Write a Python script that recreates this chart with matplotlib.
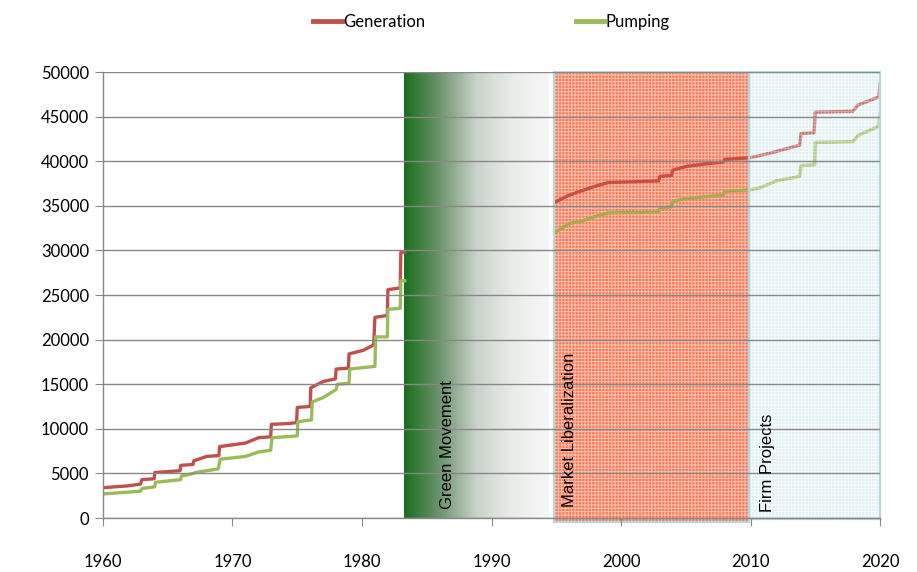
import matplotlib.pyplot as plt
import matplotlib.patches as mpatches
from matplotlib.colors import LinearSegmentedColormap
import numpy as np

# Generation / pumping capacity (NaN = gap in data)
gen_years = [1960.0, 1961.9, 1962.9, 1963.0, 1963.95, 1964.0, 1965.95, 1966.0, 1966.95, 1967.0,
             1968.0, 1968.95, 1969.0, 1971.0, 1972.0, 1972.95, 1973.0, 1974.4, 1974.95, 1975.0,
             1976.0, 1976.05, 1977.0, 1977.95, 1978.0, 1978.95, 1979.0, 1980.1, 1980.9, 1981.0,
             1981.95, 1982.0, 1982.95, 1983.0, 1983.3,
             np.nan,
             1994.9, 1996.0, 1997.0, 1998.0, 1999.0, 2002.9, 2003.0, 2003.9, 2004.0, 2005.0,
             2006.5, 2007.9, 2008.0, 2010.0, 2011.5, 2012.5, 2013.8, 2013.9, 2014.9, 2015.0,
             2017.9, 2018.3, 2019.9, 2020.0]
gen_values = [3400, 3600, 3800, 4300, 4400, 5100, 5300, 5900, 6000, 6400,
              6900, 7000, 8000, 8400, 9000, 9100, 10500, 10600, 10700, 12400,
              12500, 14600, 15300, 15600, 16700, 16800, 18400, 18800, 19400, 22500,
              22700, 25600, 25800, 29800, 29800,
              np.nan,
              35400, 36200, 36700, 37200, 37600, 37800, 38300, 38400, 39000, 39400,
              39700, 39900, 40200, 40400, 40900, 41300, 41800, 43100, 43200, 45500,
              45600, 46300, 47200, 48700]

pump_years = [1960.0, 1961.9, 1962.9, 1963.0, 1964.0, 1964.05, 1966.0, 1966.05, 1967.0, 1967.1,
              1968.9, 1969.05, 1971.0, 1972.0, 1972.95, 1973.05, 1975.0, 1975.05, 1976.1, 1976.15,
              1977.0, 1978.0, 1978.1, 1979.0, 1979.05, 1981.0, 1981.05, 1981.95, 1982.0, 1982.95,
              1983.0, 1983.3,
              np.nan,
              1994.9, 1996.0, 1997.0, 1998.0, 1999.0, 2002.9, 2003.0, 2003.9, 2004.0, 2005.0,
              2007.9, 2008.0, 2010.0, 2010.7, 2012.0, 2013.8, 2013.9, 2014.95, 2015.0, 2017.9,
              2018.3, 2019.9, 2020.0]
pump_values = [2700, 2900, 3000, 3300, 3500, 4000, 4300, 4700, 5000, 5100,
               5500, 6600, 6900, 7400, 7600, 9000, 9200, 10800, 11000, 13000,
               13500, 14400, 15000, 15100, 16700, 17000, 20300, 20300, 23400, 23500,
               26600, 26600,
               np.nan,
               32000, 33000, 33300, 33800, 34200, 34300, 34700, 34900, 35500, 35800,
               36200, 36600, 36800, 37000, 37800, 38300, 39500, 39600, 42100, 42200,
               42900, 43900, 45300]

# Shaded periods
periods = ["Green Movement", "Market Liberalization", "Firm Projects"]
period_start = [1983.25, 1994.8, 2009.9]
period_end = [1994.4, 2009.9, 2020.0]

x_ticks = [1960, 1970, 1980, 1990, 2000, 2010, 2020]
y_ticks = list(range(0, 50001, 5000))

plt.rcParams['font.family'] = ['Lato', 'DejaVu Sans']
plt.rcParams['hatch.linewidth'] = 0.7

fig = plt.figure(figsize=(9.17, 5.72), dpi=100)
ax = fig.add_axes([0.1123, 0.0944, 0.8474, 0.7797])

# Green Movement gradient
cmap = LinearSegmentedColormap.from_list(
    'greenfade', [(0, '#1a6e1c'), (0.25, '#6f9470'), (0.5, '#c9d3c9'), (0.75, '#eaecea'), (1, '#f6f6f6')])
grad = np.linspace(0, 1, 256).reshape(1, -1)
ax.imshow(grad, cmap=cmap, aspect='auto', zorder=0.5,
          extent=[period_start[0], period_end[0], 0, 50000])

# Market Liberalization / Firm Projects base fills (grid pattern)
ax.add_patch(mpatches.Rectangle((period_start[1], -500), period_end[1] - period_start[1], 50500,
                                facecolor='#fa8064', edgecolor=(1, 1, 1, 0.7), linewidth=0,
                                hatch='+++++', zorder=0.6, clip_on=False))
ax.add_patch(mpatches.Rectangle((period_start[2], -100), period_end[2] - period_start[2], 50100,
                                facecolor='#dff1f3', edgecolor=(1, 1, 1, 0.8), linewidth=0,
                                hatch='+++++', zorder=0.6, clip_on=False))

# Series
ax.plot(gen_years, gen_values, color='#c0504d', linewidth=2.4, label='Generation', zorder=1)
ax.plot(pump_years, pump_values, color='#9bbb59', linewidth=2.4, label='Pumping', zorder=1)

# Overlays that tint the lines inside the shaded periods
ax.add_patch(mpatches.Rectangle((period_start[1], -500), period_end[1] - period_start[1], 50500,
                                facecolor=(1.0, 0.3, 0.05, 0.15), edgecolor='none', zorder=1.5,
                                clip_on=False))
ax.add_patch(mpatches.Rectangle((period_start[2], -100), period_end[2] - period_start[2], 50100,
                                facecolor=(0.87, 0.95, 0.96, 0.2), edgecolor=(1, 1, 1, 0.4),
                                linewidth=0, hatch='+++++', zorder=1.5, clip_on=False))

# Borders for the pattern regions
for s, e, b in [(period_start[1], period_end[1], -500), (period_start[2], period_end[2], -100)]:
    ax.add_patch(mpatches.Rectangle((s, b), e - s, 50000 - b, facecolor='none',
                                    edgecolor='#b4d9dc', linewidth=1.6, zorder=1.8, clip_on=False))

# Period labels
label_x = [1986.6, 1996.0, 2011.3]
label_y = [1000, 1200, 700]
for name, lx, ly in zip(periods, label_x, label_y):
    ax.text(lx, ly, name, rotation=90, ha='center', va='bottom', fontsize=12,
            family='Liberation Sans', color='black', zorder=4)

ax.set_xlim(1960, 2020)
ax.set_ylim(0, 50000)
ax.set_xticks(x_ticks)
ax.set_yticks(y_ticks)
ax.tick_params(axis='x', direction='out', length=6, color='#888888', pad=20, labelsize=12)
ax.tick_params(axis='y', direction='out', length=6, color='#888888', pad=4, labelsize=12)

ax.yaxis.grid(True, color='#888888', linewidth=1)
ax.set_axisbelow(False)
for side in ['top', 'right']:
    ax.spines[side].set_visible(False)
for side in ['left', 'bottom']:
    ax.spines[side].set_color('#888888')
    ax.spines[side].set_linewidth(1)

leg = ax.legend(loc='lower center', bbox_to_anchor=(0.5, 1.06), ncol=2, frameon=False,
                fontsize=12, handlelength=1.7, handletextpad=0.1, columnspacing=9)
for line in leg.get_lines():
    line.set_linewidth(3.5)

fig.savefig('out.png', dpi=100)
